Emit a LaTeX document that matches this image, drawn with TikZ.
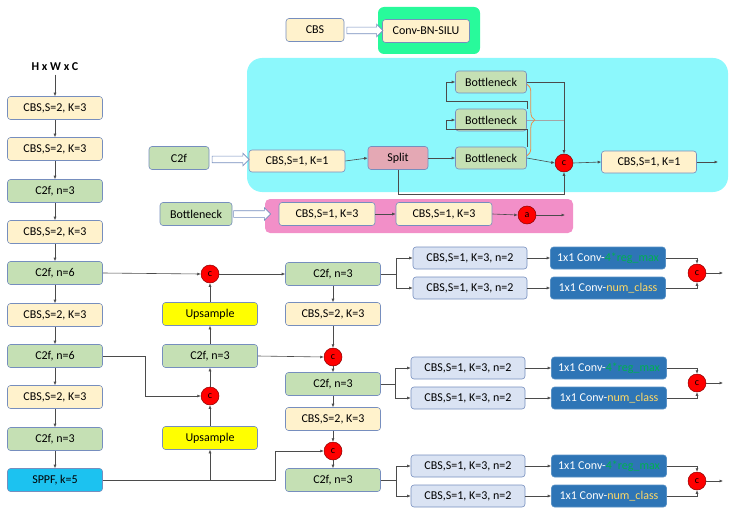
\documentclass[tikz,border=0pt]{standalone}
\usepackage{fontspec}
\setmainfont{Carlito}
\usetikzlibrary{arrows.meta,shapes.arrows,decorations.pathreplacing}

\definecolor{cbsfill}{RGB}{255,242,204}
\definecolor{cfill}{RGB}{197,224,180}
\definecolor{boxline}{RGB}{118,142,190}
\definecolor{sppffill}{RGB}{28,194,240}
\definecolor{upfill}{RGB}{255,255,0}
\definecolor{headfill}{RGB}{218,227,243}
\definecolor{convfill}{RGB}{46,117,182}
\definecolor{regcol}{RGB}{0,176,80}
\definecolor{numcol}{RGB}{255,217,102}
\definecolor{cyanbg}{RGB}{140,248,252}
\definecolor{greenbg}{RGB}{40,250,155}
\definecolor{pinkbg}{RGB}{242,143,200}
\definecolor{splitfill}{RGB}{228,168,180}
\definecolor{wirecol}{RGB}{75,75,75}
\definecolor{bracecol}{RGB}{237,140,70}

\begin{document}
\begin{tikzpicture}[x=1pt,y=-1pt,
    box/.style={draw=boxline, rounded corners=3pt, minimum height=23pt, inner sep=0pt,
        line width=0.6pt, font=\fontsize{12}{14}\selectfont},
    cbs/.style={box, fill=cbsfill, minimum width=95pt},
    c2f/.style={box, fill=cfill, minimum width=95pt},
    sppf/.style={box, fill=sppffill, minimum width=95pt},
    upbox/.style={box, fill=upfill, minimum width=95pt},
    headcbs/.style={box, fill=headfill, minimum width=114pt, minimum height=22pt},
    conv/.style={box, draw=convfill!80!white, fill=convfill, text=white, minimum width=115pt, minimum height=22pt},
    cat/.style={circle, draw=red!55!black, fill=red, minimum size=18pt, inner sep=0pt,
        line width=0.5pt, font=\fontsize{10}{10}\selectfont},
    wire/.style={draw=wirecol, line width=0.6pt, -{Latex[length=3.5pt,width=3pt]}},
    plainwire/.style={draw=wirecol, line width=0.6pt},
    hollow/.style={single arrow, draw=boxline, fill=white, line width=0.6pt,
        inner sep=0pt, text height=6pt, text depth=0pt, text width=0pt,
        single arrow head extend=3pt, single arrow tip angle=90}]
    \useasboundingbox (0,0) rectangle (735,513);

    % Panels behind the legend blocks
    \fill[greenbg, rounded corners=6pt] (378,7) rectangle (480,54);
    \fill[cyanbg, rounded corners=15pt] (247,58) rectangle (728,192);
    \fill[pinkbg, rounded corners=5pt] (265,199) rectangle (573,233);

    % Legend: CBS
    \node[cbs, minimum width=58pt] (cbsleg) at (315,30) {CBS};
    \node[cbs, minimum width=87pt] (cbn) at (426,31) {Conv-BN-SILU};
    \path (cbsleg.east) -- (cbn.west) node[midway, hollow, minimum height=36pt] (arrA) {};

    % Legend: C2f
    \node[c2f, minimum width=60pt] (c2fleg) at (179,158) {C2f};
    \node[cbs, minimum width=96pt, minimum height=22pt] (cfin) at (297,161) {CBS,S=1, K=1};
    \path (c2fleg.east) -- (cfin.west) node[midway, hollow, minimum height=37pt] (arrB) {};
    \node[box, fill=splitfill, minimum width=60pt] (split) at (398,158) {Split};
    \node[c2f, minimum width=71pt, minimum height=22pt] (bn1) at (491,82) {Bottleneck};
    \node[c2f, minimum width=71pt, minimum height=22pt] (bn2) at (491,120) {Bottleneck};
    \node[c2f, minimum width=71pt, minimum height=22pt] (bn3) at (491,158) {Bottleneck};
    \node[cat] (cc) at (564,163) {c};
    \node[cbs, minimum width=95pt, minimum height=22pt] (cfout) at (649,162) {CBS,S=1, K=1};
    \coordinate (cend) at (718,162);

    \draw[wire] (cfin.east) -- (split.west);
    \draw[wire] (split.east) -- (bn3.west);
    \draw[wire] (bn3.north east) -- ++(0,-17) -| ([xshift=-9pt]bn2.west) -- (bn2.west);
    \draw[wire] (bn2.north east) -- ++(0,-7) -| ([xshift=-9pt]bn1.west) -- (bn1.west);
    \draw[wire] (bn1.east) -| (cc.north);
    \draw[plainwire, wirecol!50] (bn2.east) -- (bn2.east -| cc.north);
    \draw[wire] (bn3.east) -- (cc.west);
    \draw[wire] (split.south) -- ++(0,24) -| (cc.south);
    \draw[decorate, decoration={brace, amplitude=8pt}, bracecol, line width=0.8pt]
        ([yshift=-2pt]bn1.east) -- ([yshift=2pt]bn3.east);
    \draw[wire] (cc.east) -- (cfout.west);
    \draw[wire] (cfout.east) -- (cend);

    % Legend: Bottleneck
    \node[c2f, minimum width=72pt] (bnleg) at (196,214) {Bottleneck};
    \node[cbs, minimum width=96pt] (bcv1) at (327,214) {CBS,S=1, K=3};
    \node[cbs, minimum width=96pt] (bcv2) at (444,214) {CBS,S=1, K=3};
    \node[cat] (add) at (527,215) {a};
    \coordinate (bend) at (565,215);
    \path (bnleg.east) -- ([xshift=-10pt]bcv1.west) node[midway, hollow, minimum height=37pt] (arrC) {};
    \draw[wire] (bcv1.east) -- (bcv2.west);
    \draw[wire] (bcv2.east) -- (add.west);
    \draw[wire] (add.east) -- (bend);

    % Backbone
    \node[font=\bfseries\fontsize{12}{14}\selectfont] (inp) at (55,67) {H x W x C};
    \node[cbs] (b1) at (55,108) {CBS,S=2, K=3};
    \node[cbs] (b2) at (55,149) {CBS,S=2, K=3};
    \node[c2f] (b3) at (55,191) {C2f, n=3};
    \node[cbs] (b4) at (55,232) {CBS,S=2, K=3};
    \node[c2f] (b5) at (55,273) {C2f, n=6};
    \node[cbs] (b6) at (55,315) {CBS,S=2, K=3};
    \node[c2f] (b7) at (55,356) {C2f, n=6};
    \node[cbs] (b8) at (55,397) {CBS,S=2, K=3};
    \node[c2f] (b9) at (55,439) {C2f, n=3};
    \node[sppf] (b10) at (55,480) {SPPF, k=5};
    \draw[wire] (inp) -- (b1);
    \draw[wire] (b1) -- (b2);
    \draw[wire] (b2) -- (b3);
    \draw[wire] (b3) -- (b4);
    \draw[wire] (b4) -- (b5);
    \draw[wire] (b5) -- (b6);
    \draw[wire] (b6) -- (b7);
    \draw[wire] (b7) -- (b8);
    \draw[wire] (b8) -- (b9);
    \draw[wire] (b9) -- (b10);

    % Neck, upward path
    \node[cat] (n1) at (210,274) {c};
    \node[upbox] (up1) at (210,314) {Upsample};
    \node[c2f] (n2) at (210,356) {C2f, n=3};
    \node[cat] (n3) at (210,396) {c};
    \node[upbox] (up2) at (210,438) {Upsample};
    \draw[wire] (b5.east) -- (n1.west);
    \draw[wire] (b7.east) -- ++(42,0) |- (n3.west);
    \draw[wire] (b10.east -| up2.south) -- (up2.south);
    \draw[wire] (up2) -- (n3);
    \draw[wire] (n3) -- (n2);
    \draw[wire] (n2) -- (up1);
    \draw[wire] (up1) -- (n1);

    % Neck, downward path
    \node[c2f] (p1) at (333,274) {C2f, n=3};
    \node[cbs] (p2) at (333,314) {CBS,S=2, K=3};
    \node[cat] (p3) at (333,357) {c};
    \node[c2f] (p4) at (333,384) {C2f, n=3};
    \node[cbs] (p5) at (333,419) {CBS,S=2, K=3};
    \node[cat] (p6) at (333,451) {c};
    \node[c2f] (p7) at (333,480) {C2f, n=3};
    \draw[wire] (n1.east) -- (p1.west);
    \draw[wire] (p1) -- (p2);
    \draw[wire] (p2) -- (p3);
    \draw[wire] (n2.east) -- (p3.west);
    \draw[wire] (p3) -- (p4);
    \draw[wire] (p4) -- (p5);
    \draw[wire] (p5) -- (p6);
    \draw[wire] (p6) -- (p7);
    \draw[wire] (b10.east) -- (275,480) |- (p6.west);

    % Heads
    \node[headcbs] (h1a) at (470,258) {CBS,S=1, K=3, n=2};
    \node[headcbs] (h1b) at (470,288) {CBS,S=1, K=3, n=2};
    \node[conv] (h1c) at (608,258) {1x1 Conv-\textcolor{regcol}{4*reg\_max}};
    \node[conv] (h1d) at (608,288) {1x1 Conv-\textcolor{numcol}{num\_class}};
    \node[cat] (o1) at (697,273) {c};
    \coordinate (e1) at (723,273);
    \draw[wire] (p1.east) -- ++(15,0) |- (h1a.west);
    \draw[wire] (p1.east) -- ++(15,0) |- (h1b.west);
    \draw[wire] (h1a) -- (h1c);
    \draw[wire] (h1b) -- (h1d);
    \draw[wire] (h1c.east) -| (o1.north);
    \draw[wire] (h1d.east) -| (o1.south);
    \draw[wire] (o1.east) -- (e1);

    \node[headcbs] (h2a) at (468,368) {CBS,S=1, K=3, n=2};
    \node[headcbs] (h2b) at (468,398) {CBS,S=1, K=3, n=2};
    \node[conv] (h2c) at (609,368) {1x1 Conv-\textcolor{regcol}{4*reg\_max}};
    \node[conv] (h2d) at (609,398) {1x1 Conv-\textcolor{numcol}{num\_class}};
    \node[cat] (o2) at (697,383) {c};
    \coordinate (e2) at (723,383);
    \draw[wire] (p4.east) -- ++(14,0) |- (h2a.west);
    \draw[wire] (p4.east) -- ++(14,0) |- (h2b.west);
    \draw[wire] (h2a) -- (h2c);
    \draw[wire] (h2b) -- (h2d);
    \draw[wire] (h2c.east) -| (o2.north);
    \draw[wire] (h2d.east) -| (o2.south);
    \draw[wire] (o2.east) -- (e2);

    \node[headcbs] (h3a) at (468,466) {CBS,S=1, K=3, n=2};
    \node[headcbs] (h3b) at (468,496) {CBS,S=1, K=3, n=2};
    \node[conv] (h3c) at (609,466) {1x1 Conv-\textcolor{regcol}{4*reg\_max}};
    \node[conv] (h3d) at (609,496) {1x1 Conv-\textcolor{numcol}{num\_class}};
    \node[cat] (o3) at (697,481) {c};
    \coordinate (e3) at (723,481);
    \draw[wire] (p7.east) -- ++(15,0) |- (h3a.west);
    \draw[wire] (p7.east) -- ++(15,0) |- (h3b.west);
    \draw[wire] (h3a) -- (h3c);
    \draw[wire] (h3b) -- (h3d);
    \draw[wire] (h3c.east) -| (o3.north);
    \draw[wire] (h3d.east) -| (o3.south);
    \draw[wire] (o3.east) -- (e3);
\end{tikzpicture}
\end{document}
